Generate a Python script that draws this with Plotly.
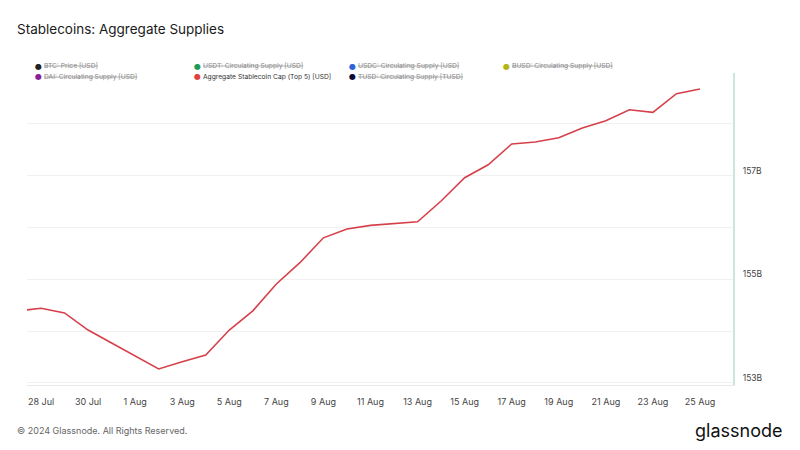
import plotly.graph_objects as go

# ---- data ----
dates = [
    "2024-07-27", "2024-07-28", "2024-07-29", "2024-07-30", "2024-07-31",
    "2024-08-01", "2024-08-02", "2024-08-03", "2024-08-04", "2024-08-05",
    "2024-08-06", "2024-08-07", "2024-08-08", "2024-08-09", "2024-08-10",
    "2024-08-11", "2024-08-12", "2024-08-13", "2024-08-14", "2024-08-15",
    "2024-08-16", "2024-08-17", "2024-08-18", "2024-08-19", "2024-08-20",
    "2024-08-21", "2024-08-22", "2024-08-23", "2024-08-24", "2024-08-25",
]
aggregate_cap_b = [
    154.39, 154.44, 154.35, 154.02, 153.77,
    153.52, 153.27, 153.41, 153.54, 154.02,
    154.39, 154.91, 155.32, 155.80, 155.97,
    156.04, 156.08, 156.11, 156.51, 156.96,
    157.21, 157.61, 157.65, 157.73, 157.92,
    158.06, 158.27, 158.22, 158.58, 158.67,
]
y_tickvals = [153, 154, 155, 156, 157, 158]
y_ticktext = ["153B", "", "155B", "", "157B", ""]

legend_names = [
    "BTC: Price [USD]", "USDT: Circulating Supply [USD]",
    "USDC: Circulating Supply [USD]", "BUSD: Circulating Supply [USD]",
    "DAI: Circulating Supply [USD]", "Aggregate Stablecoin Cap (Top 5) [USD]",
    "TUSD: Circulating Supply [TUSD]",
]
legend_colors = ["#222222", "#1a9a5c", "#2f62d8", "#b5b512",
                 "#8a1e9a", "#e0413f", "#0b0b3a"]
legend_hidden = [True, True, True, True, True, False, True]

LINE_COLOR = "#d6404a"
FONT = "Inter"

# plot area in pixels
L, R, T, B = 27, 733, 73, 385
PW, PH = R - L, B - T


def px_x(x):
    return (x - L) / PW


def px_y(y):
    return 1 - (y - T) / PH


fig = go.Figure()
fig.add_trace(go.Scatter(
    x=dates, y=aggregate_cap_b, mode="lines",
    line=dict(color=LINE_COLOR, width=1.6),
    showlegend=False, hoverinfo="skip",
))

fig.update_layout(
    width=800, height=450,
    margin=dict(l=L, r=800 - R, t=T, b=450 - B),
    paper_bgcolor="white", plot_bgcolor="white",
    font=dict(family=FONT, color="#444444"),
    showlegend=False,
    xaxis=dict(
        type="date",
        range=["2024-07-27 09:43", "2024-08-26 09:40"],
        tick0="2024-07-28", dtick=2 * 86400000,
        tickformat="%-d %b",
        showgrid=False, zeroline=False,
        showline=True, linecolor="#e8e8e8", linewidth=1,
        ticks="", ticklabelstandoff=8,
        tickfont=dict(size=9, color="#444444", family=FONT),
    ),
    yaxis=dict(
        side="right",
        range=[152.96, 158.98],
        tickvals=y_tickvals, ticktext=y_ticktext,
        showgrid=True, gridcolor="#f1f1f1", gridwidth=1,
        zeroline=False,
        showline=True, linecolor="#c9e7e1", linewidth=2,
        ticks="", ticklabelstandoff=6, ticklabelshift=-5,
        tickfont=dict(size=8.5, color="#444444", family=FONT),
    ),
)

# Title
fig.add_annotation(
    text="Stablecoins: Aggregate Supplies", xref="paper", yref="paper",
    x=px_x(15), y=px_y(29), xanchor="left", yanchor="middle",
    showarrow=False, font=dict(size=13.5, color="#1a1a1a", family=FONT),
)

# Custom legend (4 columns, 2 rows)
col_x = [38, 197, 352, 506]
row_y = [66, 77]
for i, (name, color, hidden) in enumerate(zip(legend_names, legend_colors, legend_hidden)):
    cx = col_x[i % 4]
    cy = row_y[i // 4]
    fig.add_annotation(
        text="●", xref="paper", yref="paper", x=px_x(cx), y=px_y(cy),
        xanchor="center", yanchor="middle", showarrow=False,
        font=dict(size=8, color=color, family="DejaVu Sans"),
    )
    if hidden:
        label = '<span style="text-decoration:line-through">' + name + "</span>"
        tcolor = "#8a8a8a"
    else:
        label = name
        tcolor = "#333333"
    fig.add_annotation(
        text=label, xref="paper", yref="paper", x=px_x(cx + 4), y=px_y(cy),
        xanchor="left", yanchor="middle", showarrow=False,
        font=dict(size=6.7, color=tcolor, family=FONT),
    )

# Footer
fig.add_annotation(
    text="© 2024 Glassnode. All Rights Reserved.", xref="paper", yref="paper",
    x=px_x(15), y=px_y(430), xanchor="left", yanchor="middle",
    showarrow=False, font=dict(size=9, color="#666666", family=FONT),
)
fig.add_annotation(
    text="glassnode", xref="paper", yref="paper",
    x=px_x(784), y=px_y(430), xanchor="right", yanchor="middle",
    showarrow=False, font=dict(size=18, color="#111111", family=FONT),
)

fig.write_html("out.html")
